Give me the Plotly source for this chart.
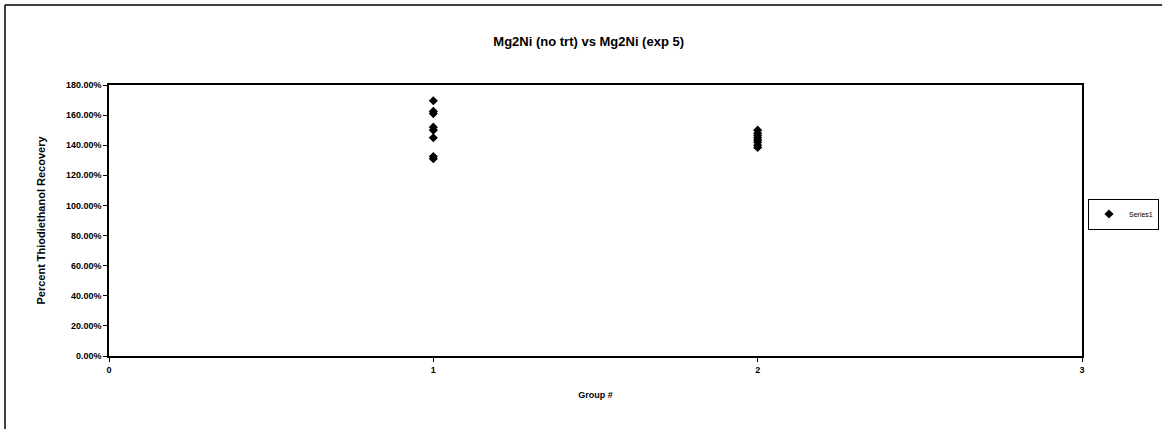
import plotly.graph_objects as go

# Data
group1_x = [1, 1, 1, 1, 1, 1, 1, 1]
group1_y = [1.695, 1.625, 1.61, 1.52, 1.50, 1.45, 1.325, 1.31]
group2_x = [2, 2, 2, 2, 2, 2, 2, 2]
group2_y = [1.50, 1.48, 1.465, 1.45, 1.435, 1.42, 1.40, 1.385]
x_vals = group1_x + group2_x
y_vals = group1_y + group2_y
y_ticks = [0, 0.2, 0.4, 0.6, 0.8, 1.0, 1.2, 1.4, 1.6, 1.8]
y_tick_labels = ["0.00%", "20.00%", "40.00%", "60.00%", "80.00%", "100.00%",
                 "120.00%", "140.00%", "160.00%", "180.00%"]
x_ticks = [0, 1, 2, 3]

W, H = 1162, 429
L, R, T, B = 109, 80, 85, 73
pw, ph = W - L - R, H - T - B

def px_x(x):
    return (x - L) / pw

def px_y(y):
    return (H - B - y) / ph

font_fam = "Liberation Sans, Arial, sans-serif"

fig = go.Figure()
fig.add_trace(go.Scatter(
    x=x_vals, y=y_vals, mode="markers", name="Series1",
    marker=dict(symbol="diamond", size=7, color="black"),
))

fig.update_layout(
    width=W, height=H,
    margin=dict(l=L, r=R, t=T, b=B, autoexpand=False),
    paper_bgcolor="white", plot_bgcolor="white",
    font=dict(family=font_fam, color="black", size=9),
    title=dict(text="<b>Mg2Ni (no trt) vs Mg2Ni (exp 5)</b>",
               x=0.493, xref="paper", xanchor="center",
               y=1 - 41 / H, yanchor="middle",
               font=dict(size=13, family=font_fam, color="black")),
    showlegend=True,
    legend=dict(xref="container", yref="container",
                x=1088 / W, y=1 - 214 / H, xanchor="left", yanchor="middle",
                bordercolor="black", borderwidth=1, bgcolor="white",
                font=dict(size=7, family=font_fam, color="black"),
                itemwidth=30, tracegroupgap=0),
    xaxis=dict(range=[0, 3], tickvals=x_ticks, ticktext=[f"<b>{v}</b>" for v in x_ticks],
               showgrid=False, zeroline=False, showline=True, linecolor="black",
               linewidth=1.5, mirror=True, ticks="outside", ticklen=4, tickcolor="black",
               tickfont=dict(size=9, color="black"),
               title=dict(text="<b>Group #</b>", standoff=18,
                          font=dict(size=9, color="black"))),
    yaxis=dict(range=[0, 1.8], tickvals=y_ticks,
               ticktext=[f"<b>{t}</b>" for t in y_tick_labels],
               showgrid=False, zeroline=False, showline=True, linecolor="black",
               linewidth=1.5, mirror=True, ticks="outside", ticklen=4, tickcolor="black",
               tickfont=dict(size=9, color="black"),
               title=dict(text="<b>Percent Thiodiethanol Recovery</b>", standoff=18,
                          font=dict(size=11, color="black"))),
    shapes=[
        dict(type="line", xref="paper", yref="paper",
             x0=px_x(5), x1=px_x(5), y0=px_y(5), y1=px_y(H),
             line=dict(color="black", width=1.5)),
        dict(type="line", xref="paper", yref="paper",
             x0=px_x(5), x1=px_x(W), y0=px_y(5), y1=px_y(5),
             line=dict(color="black", width=1.5)),
    ],
)

fig.write_html("out.html", config={"displayModeBar": False},
               post_script="document.body.style.margin='0';document.body.style.overflow='hidden';")
